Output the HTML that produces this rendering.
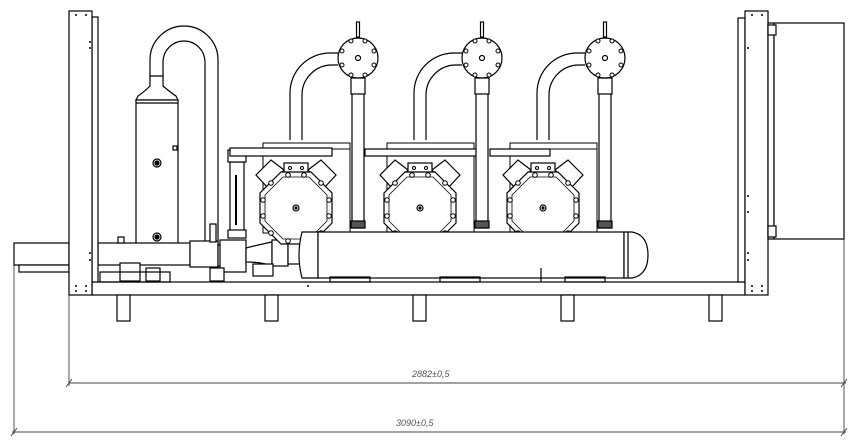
<!DOCTYPE html>
<html><head><meta charset="utf-8"><style>
html,body{margin:0;padding:0;background:#fff;}
svg{display:block;}
text{font-family:"Liberation Sans",sans-serif;font-style:italic;font-size:9px;fill:#555;}
</style></head><body>
<svg width="862" height="448" viewBox="0 0 862 448" xmlns="http://www.w3.org/2000/svg">
<defs>
<g id="comp" fill="#fff" stroke="#000" stroke-width="1.2">
  <rect x="-33" y="-65" width="87" height="90" fill="none" stroke-width="1"/>
  <rect x="-33" y="-65" width="87" height="6" fill="none" stroke-width="1"/>
  <path d="M-40,-33 L-25,-48 L-12,-38 L-28,-20 Z"/>
  <path d="M40,-33 L25,-48 L12,-38 L28,-20 Z"/>
  <rect x="-12" y="-45" width="24" height="10"/>
  <polygon points="-15,-36 15,-36 36,-15 36,15 15,36 -15,36 -36,15 -36,-15"/>
  <polygon points="-13,-31 13,-31 31,-13 31,13 13,31 -13,31 -31,13 -31,-13" fill="none" stroke-width="0.8"/>
  <circle cx="0" cy="0" r="3"/><circle cx="0" cy="0" r="1" fill="#000"/>
  <g stroke-width="1">
  <circle cx="-33" cy="-8" r="2.3"/><circle cx="-33" cy="8" r="2.3"/>
  <circle cx="33" cy="-8" r="2.3"/><circle cx="33" cy="8" r="2.3"/>
  <circle cx="-25" cy="25" r="2.3"/><circle cx="25" cy="25" r="2.3"/>
  <circle cx="-25" cy="-25" r="2.3"/><circle cx="25" cy="-25" r="2.3"/>
  <circle cx="-8" cy="-33" r="2.3"/><circle cx="8" cy="-33" r="2.3"/>
  <circle cx="-8" cy="33" r="2.3"/><circle cx="8" cy="33" r="2.3"/>
  <circle cx="-6" cy="-40" r="1.5"/><circle cx="6" cy="-40" r="1.5"/>
  </g>
</g>
<g id="disch" fill="#fff" stroke="#000" stroke-width="1.2">
  <path d="M-20,-5 L-28,-5 A40,40 0 0 0 -68,35 L-68,82 M-20,7 L-26,7 A30,30 0 0 0 -56,37 L-56,82" fill="none"/>
  <rect x="-1.5" y="-36" width="3" height="15"/>
  <rect x="-6" y="20" width="12" height="150"/>
  <rect x="-7" y="20" width="14" height="16"/>
  <rect x="-7" y="163" width="14" height="7" fill="#555"/>
  <circle cx="0" cy="0" r="20"/>
  <circle cx="0" cy="0" r="2.5"/>
  <g stroke-width="1">
  <circle cx="-7" cy="-17" r="2"/><circle cx="7" cy="-17" r="2"/>
  <circle cx="-16" cy="-7" r="2"/><circle cx="16" cy="-7" r="2"/>
  <circle cx="-16" cy="7" r="2"/><circle cx="16" cy="7" r="2"/>
  <circle cx="-7" cy="17" r="2"/><circle cx="7" cy="17" r="2"/>
  </g>
</g>
</defs>

<g stroke="#444" stroke-width="0.9" fill="none">
  <line x1="14" y1="265" x2="14" y2="434"/>
  <line x1="69" y1="295" x2="69" y2="386"/>
  <line x1="844" y1="239" x2="844" y2="434"/>
  <line x1="69" y1="383" x2="846" y2="383"/>
  <line x1="12" y1="432" x2="846" y2="432"/>
  <line x1="66" y1="387" x2="72" y2="379"/><line x1="841" y1="387" x2="847" y2="379"/>
  <line x1="11" y1="436" x2="17" y2="428"/><line x1="841" y1="436" x2="847" y2="428"/>
</g>
<text x="412" y="377">2882±0,5</text>
<text x="396" y="426">3090±0,5</text>

<g fill="#fff" stroke="#000" stroke-width="1.2">
  <rect x="14" y="243" width="55" height="22"/>
  <rect x="19" y="265" width="50" height="7"/>
  <rect x="92" y="282" width="653" height="13"/>
  <rect x="117" y="295" width="13" height="26"/>
  <rect x="265" y="295" width="13" height="26"/>
  <rect x="413" y="295" width="13" height="26"/>
  <rect x="561" y="295" width="13" height="26"/>
  <rect x="709" y="295" width="13" height="26"/>

  <path d="M150,78 L150,60 A34,34 0 0 1 218,60 L218,245 L205,245 L205,62 A21,21 0 0 0 163,62 L163,78 Z"/>
  <path d="M150,76 L163,76 L163,86 Q170,92 176,96 L178,100 L136,100 L138,96 Q144,92 150,86 Z"/>
  <rect x="136" y="100" width="42" height="145"/>
  <line x1="136" y1="103" x2="178" y2="103"/>
  <circle cx="157" cy="163" r="4"/><circle cx="157" cy="163" r="2" fill="#000"/>
  <circle cx="157" cy="237" r="4"/><circle cx="157" cy="237" r="2" fill="#000"/>
  <rect x="173" y="146" width="4" height="4"/>

  <rect x="98" y="243" width="92" height="22"/>
  <rect x="190" y="241" width="28" height="26"/>
  <path d="M218,245 L232,245 L240,250 L240,262 L232,266 L218,266 Z"/>
  <rect x="220" y="240" width="26" height="32"/>
  <path d="M246,248 Q262,244 272,242 L272,266 Q262,262 246,262 Z"/>
  <rect x="272" y="240" width="16" height="26"/>
  <rect x="288" y="242" width="12" height="22"/>
  <rect x="253" y="264" width="20" height="12"/>
  <rect x="120" y="263" width="20" height="18"/>
  <rect x="146" y="268" width="14" height="13"/>
  <rect x="100" y="272" width="70" height="10" fill="none"/>
  <rect x="210" y="268" width="14" height="13"/>
  <rect x="210" y="224" width="6" height="18"/>
  <rect x="118" y="237" width="6" height="6"/>

  <rect x="230" y="162" width="14" height="75"/>
  <line x1="236" y1="175" x2="236" y2="225" stroke-width="2"/>
  <rect x="228" y="150" width="18" height="12"/>
  <rect x="228" y="230" width="18" height="8"/>
</g>

<use href="#comp" x="296" y="208"/>
<use href="#comp" x="420" y="208"/>
<use href="#comp" x="543" y="208"/>

<g fill="#fff" stroke="#000" stroke-width="1.2">
  <rect x="230" y="148" width="102" height="8"/>
  <rect x="365" y="149" width="118" height="7"/>
  <rect x="490" y="149" width="60" height="7"/>
</g>

<use href="#disch" x="358" y="58"/>
<use href="#disch" x="482" y="58"/>
<use href="#disch" x="605" y="58"/>

<g fill="#fff" stroke="#000" stroke-width="1.2">
  <path d="M318,232 L302,232 Q296,255 302,278 L318,278 Z"/>
  <rect x="318" y="232" width="306" height="46"/>
  <path d="M624,232 L632,232 Q648,235 648,255 Q648,275 632,278 L624,278 Z"/>
  <line x1="628" y1="232" x2="628" y2="278"/>
  <rect x="330" y="277" width="40" height="5" fill="none"/>
  <rect x="440" y="277" width="40" height="5" fill="none"/>
  <rect x="565" y="277" width="40" height="5" fill="none"/>
  <line x1="541" y1="268" x2="541" y2="282"/>

  <rect x="92" y="17" width="6" height="265"/>
  <rect x="69" y="11" width="23" height="284"/>
  <rect x="738" y="18" width="7" height="264"/>
  <rect x="745" y="11" width="23" height="284"/>
  <rect x="768" y="23" width="6" height="216"/>
  <rect x="774" y="23" width="70" height="216"/>
  <rect x="768" y="25" width="8" height="10"/>
  <rect x="768" y="226" width="8" height="11"/>
</g>
<g fill="#000">
  <circle cx="76" cy="15" r="1"/><circle cx="86" cy="15" r="1"/>
  <circle cx="76" cy="286" r="1"/><circle cx="86" cy="286" r="1"/>
  <circle cx="76" cy="291" r="1"/><circle cx="86" cy="291" r="1"/>
  <circle cx="752" cy="15" r="1"/><circle cx="762" cy="15" r="1"/>
  <circle cx="752" cy="286" r="1"/><circle cx="762" cy="286" r="1"/>
  <circle cx="752" cy="291" r="1"/><circle cx="762" cy="291" r="1"/>
  <circle cx="90" cy="42" r="1"/><circle cx="90" cy="48" r="1"/>
  <circle cx="90" cy="253" r="1"/><circle cx="90" cy="260" r="1"/>
  <circle cx="748" cy="48" r="1"/><circle cx="748" cy="196" r="1"/><circle cx="748" cy="212" r="1"/>
  <circle cx="748" cy="253" r="1"/><circle cx="748" cy="260" r="1"/>
  <circle cx="308" cy="286" r="1"/>
</g>
</svg>
</body></html>
